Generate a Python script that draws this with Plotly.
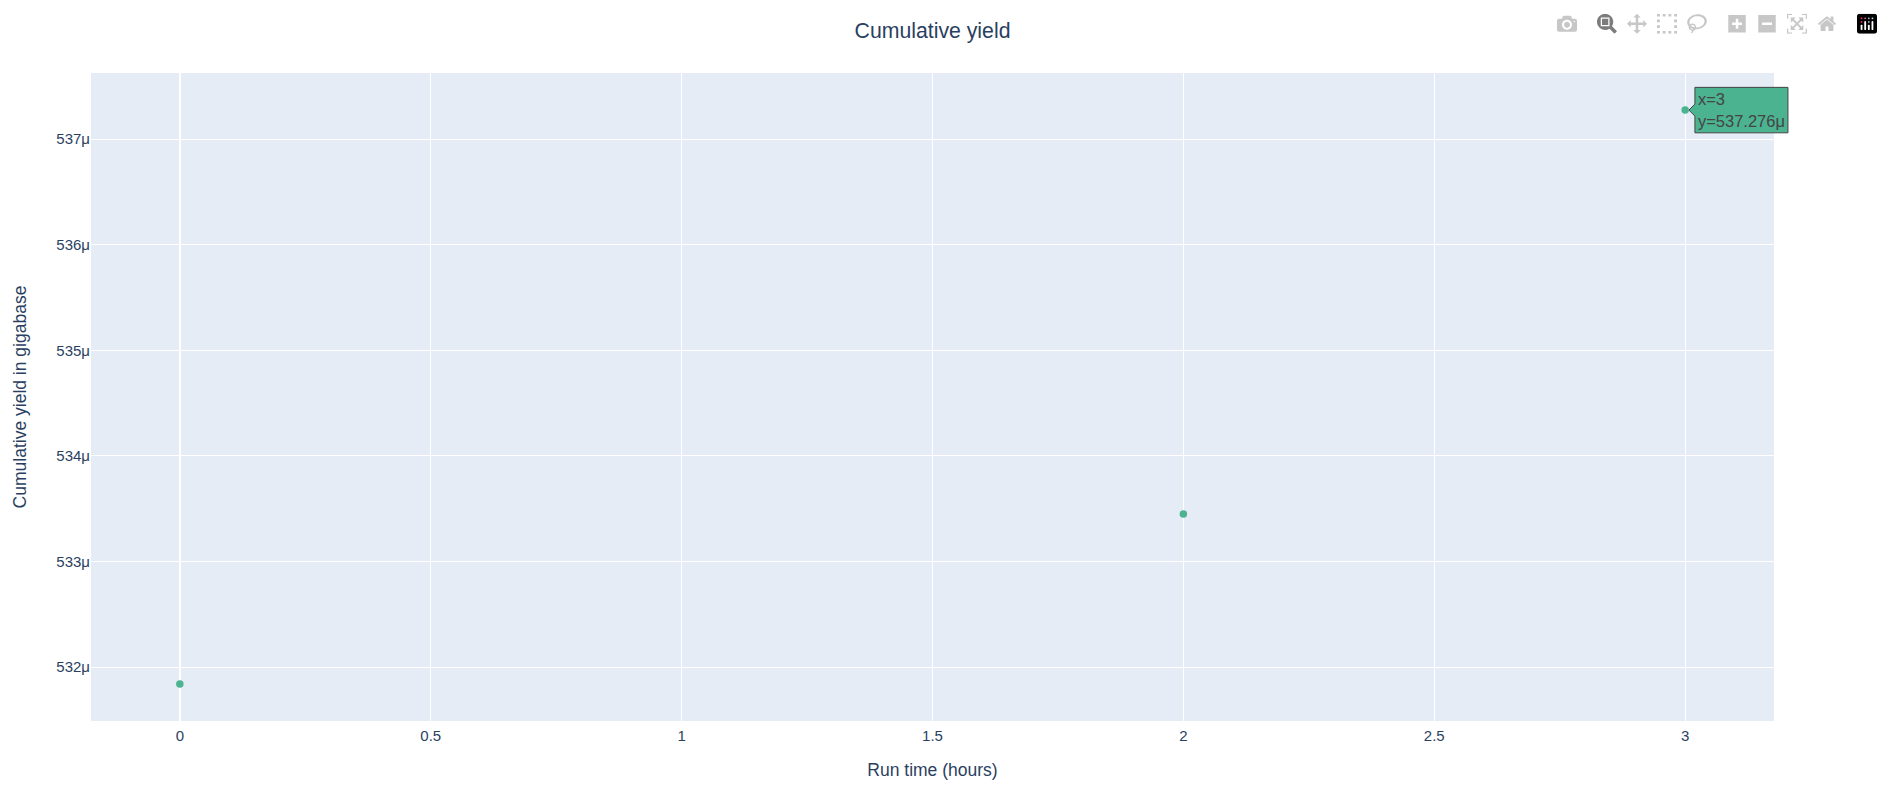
import plotly.graph_objects as go

# Cumulative yield over the run (gigabase)
run_hours = [0, 2, 3]
cum_yield = [531.84e-6, 533.45e-6, 537.276e-6]

fig = go.Figure()

fig.add_trace(go.Scatter(
    x=run_hours,
    y=cum_yield,
    mode='markers',
    marker=dict(color='#4CB391', size=7.5),
    hovertemplate='x=%{x}<br>y=%{y}<extra></extra>',
    hoverlabel=dict(bgcolor='#4CB391', bordercolor='#444',
                    font=dict(size=16.5, color='#444', family='Liberation Sans, Arial')),
))

# reference was shown at 125%, so the default sizes are scaled by 1.25
fig.update_layout(
    width=1876,
    height=785,
    font=dict(family='Liberation Sans, Arial', size=15, color='#2a3f5f'),
    title=dict(text='Cumulative yield', x=0.5, xref='paper',
               y=0.981, yref='container', font=dict(size=21.25)),
    margin=dict(l=83, r=110, t=65, b=72),
    hovermode='closest',
    showlegend=False,
)

fig.update_xaxes(title=dict(text='Run time (hours)', font=dict(size=17.5), standoff=20),
                 ticklabelstandoff=4)
fig.update_yaxes(title=dict(text='Cumulative yield in gigabase', font=dict(size=17.5),
                            standoff=25))

# bigger modebar, then show the hover label of the last point
post = """
var st = document.createElement('style');
st.innerHTML = '.modebar{transform:scale(1.25);transform-origin:top right;}';
document.head.appendChild(st);
var gd = document.getElementsByClassName('plotly-graph-div')[0];
setTimeout(function(){
  try { Plotly.Fx.hover(gd, [{curveNumber: 0, pointNumber: 2}]); } catch (e) {}
}, 300);
"""

fig.write_html("out.html", config={'displayModeBar': True}, post_script=post)
